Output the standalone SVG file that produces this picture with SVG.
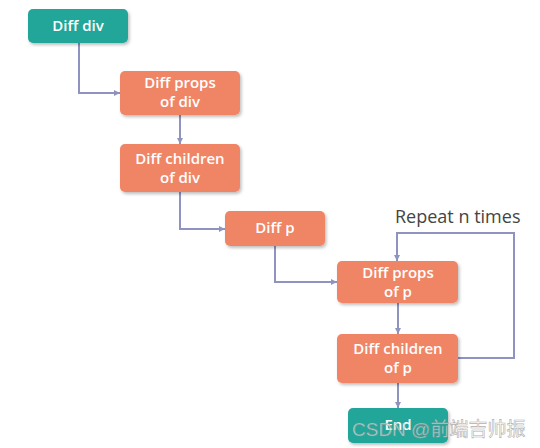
<svg xmlns="http://www.w3.org/2000/svg" width="540" height="448" viewBox="0 0 540 448">
<defs>
<filter id="sh" x="-10%" y="-10%" width="130%" height="140%">
<feDropShadow dx="1.5" dy="2" stdDeviation="1.5" flood-color="#000" flood-opacity="0.25"/>
</filter>
<marker id="ar" viewBox="0 0 8 8" refX="8" refY="4" markerWidth="6" markerHeight="6" orient="auto" markerUnits="userSpaceOnUse">
<path d="M0,0 L8,4 L0,8 Z" fill="#8e93bf"/>
</marker>
<style>
.t{fill:#22a699;filter:url(#sh)}
.o{fill:#f08566;filter:url(#sh)}
.lb{font-family:"Open Sans","Liberation Sans",sans-serif;font-weight:600;font-size:15px;fill:#fff;text-anchor:middle}
.c{fill:none;stroke:#8e93bf;stroke-width:2;marker-end:url(#ar)}
</style>
</defs>
<rect width="540" height="448" fill="#fff"/>
<g id="connectors">
<path class="c" d="M79,43 V93 H120"/>
<path class="c" d="M180,115 V144"/>
<path class="c" d="M180,192 V229 H225"/>
<path class="c" d="M275,246 V282 H337"/>
<path class="c" d="M398,303 V334"/>
<path class="c" d="M398,383 V408"/>
<path class="c" d="M458,358 H514 V233 H397 V261"/>
</g>
<text x="395" y="223" font-family="'Open Sans','Liberation Sans',sans-serif" font-size="18" fill="#444">Repeat n times</text>
<g id="diff-div"><rect class="t" x="28" y="9" width="100" height="34" rx="5"/><text class="lb" x="78" y="31">Diff div</text></g>
<g id="props-div"><rect class="o" x="120" y="71" width="120" height="44" rx="5"/><text class="lb" x="180" y="88">Diff props</text><text class="lb" x="180" y="107">of div</text></g>
<g id="children-div"><rect class="o" x="120" y="144" width="120" height="48" rx="5"/><text class="lb" x="180" y="164">Diff children</text><text class="lb" x="180" y="183">of div</text></g>
<g id="diff-p"><rect class="o" x="225" y="211" width="100" height="35" rx="5"/><text class="lb" x="275" y="233">Diff p</text></g>
<g id="props-p"><rect class="o" x="337" y="261" width="121" height="42" rx="5"/><text class="lb" x="398" y="278">Diff props</text><text class="lb" x="398" y="297">of p</text></g>
<g id="children-p"><rect class="o" x="337" y="334" width="121" height="49" rx="5"/><text class="lb" x="398" y="354">Diff children</text><text class="lb" x="398" y="373">of p</text></g>
<g id="end"><rect class="t" x="348" y="408" width="100" height="35" rx="5"/><text class="lb" x="398" y="430">End</text></g>
<text x="352" y="436" font-family="'Liberation Sans','Noto Sans CJK SC',sans-serif" font-size="19" fill="#fff" fill-opacity="0.55" stroke="#888" stroke-width="0.6" stroke-opacity="0.7">CSDN @前端吉帅振</text>
</svg>
